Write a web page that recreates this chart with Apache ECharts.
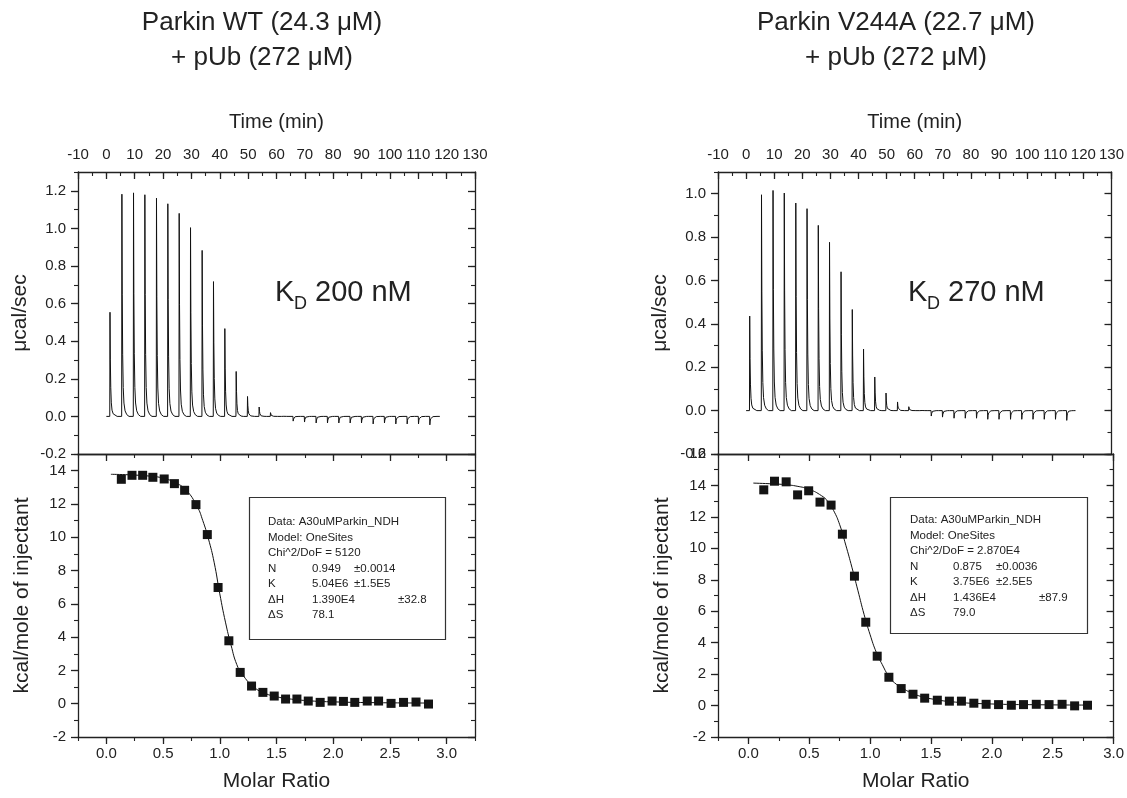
<!DOCTYPE html>
<html><head><meta charset="utf-8">
<script src="https://cdn.jsdelivr.net/npm/echarts@6/dist/echarts.min.js"></script>
<style>html,body{margin:0;padding:0;background:#fff}#c{width:1127px;height:798px}</style>
</head><body><div id="c"></div>
<script>
// ---------- DATA ----------
const injTimes = [1.2, 5.4, 9.5, 13.5, 17.6, 21.6, 25.6, 29.6, 33.7, 37.7, 41.7, 45.7, 49.7, 53.8, 57.8, 61.8, 65.8, 69.8, 73.9, 77.9, 81.9, 85.9, 89.9, 94.0, 98.0, 102.0, 106.0, 110.0, 114.0];
const wtPeaks = [0.554, 1.182, 1.189, 1.179, 1.161, 1.131, 1.080, 1.004, 0.883, 0.717, 0.467, 0.239, 0.106, 0.05, 0.02, 0.009, -0.025, -0.03, -0.035, -0.035, -0.035, -0.035, -0.035, -0.04, -0.035, -0.04, -0.04, -0.04, -0.045];
const vaPeaks = [0.436, 0.995, 1.015, 1.003, 0.957, 0.931, 0.854, 0.776, 0.640, 0.466, 0.284, 0.155, 0.081, 0.040, 0.018, 0.008, -0.025, -0.03, -0.035, -0.035, -0.035, -0.04, -0.04, -0.04, -0.04, -0.04, -0.04, -0.04, -0.045];
const peakDt = [0, 0.08, 0.2, 0.35, 0.55, 0.8, 1.2, 1.8, 2.6];
const peakShape = [0, 1, 0.55, 0.28, 0.13, 0.06, 0.025, 0.008, 0];
const traceEndWT = 117.6, traceEndVA = 117.2;

const wtRatio = [0.132, 0.226, 0.32, 0.41, 0.51, 0.60, 0.69, 0.79, 0.89, 0.985, 1.08, 1.18, 1.28, 1.38, 1.48, 1.58, 1.68, 1.78, 1.885, 1.99, 2.09, 2.19, 2.30, 2.40, 2.51, 2.62, 2.73, 2.84];
const wtHeat = [13.48, 13.72, 13.72, 13.6, 13.5, 13.22, 12.82, 11.96, 10.16, 6.98, 3.78, 1.88, 1.06, 0.68, 0.46, 0.28, 0.28, 0.16, 0.08, 0.16, 0.14, 0.08, 0.16, 0.16, 0.02, 0.08, 0.1, -0.02];
const vaRatio = [0.126, 0.214, 0.31, 0.404, 0.495, 0.588, 0.679, 0.772, 0.871, 0.964, 1.058, 1.154, 1.255, 1.352, 1.448, 1.552, 1.651, 1.75, 1.852, 1.953, 2.055, 2.16, 2.26, 2.365, 2.47, 2.577, 2.68, 2.786];
const vaHeat = [13.72, 14.27, 14.23, 13.4, 13.66, 12.94, 12.75, 10.9, 8.23, 5.3, 3.14, 1.8, 1.08, 0.72, 0.47, 0.34, 0.28, 0.28, 0.15, 0.08, 0.06, 0.02, 0.06, 0.08, 0.06, 0.08, -0.02, 0.02];

const wtFitX = [0.04, 0.2, 0.4, 0.5, 0.6, 0.7, 0.8, 0.85, 0.9, 0.95, 1.0, 1.05, 1.1, 1.15, 1.2, 1.3, 1.4, 1.5, 1.6, 1.8, 2.0, 2.4, 2.85];
const wtFitY = [13.78, 13.75, 13.66, 13.55, 13.3, 12.85, 11.85, 11.0, 9.9, 8.5, 6.6, 4.9, 3.5, 2.35, 1.75, 1.0, 0.62, 0.42, 0.3, 0.17, 0.11, 0.06, 0.04];
const vaFitX = [0.04, 0.2, 0.3, 0.4, 0.5, 0.6, 0.65, 0.7, 0.75, 0.8, 0.85, 0.9, 0.95, 1.0, 1.05, 1.1, 1.15, 1.2, 1.3, 1.4, 1.5, 1.7, 2.0, 2.4, 2.79];
const vaFitY = [14.15, 14.1, 14.05, 13.95, 13.75, 13.35, 13.0, 12.4, 11.5, 10.2, 8.8, 7.3, 5.8, 4.5, 3.4, 2.6, 1.9, 1.45, 0.95, 0.62, 0.43, 0.22, 0.1, 0.05, 0.03];

const timeTicks = [-10, 0, 10, 20, 30, 40, 50, 60, 70, 80, 90, 100, 110, 120, 130];
const powerTicksWT = [-0.2, 0, 0.2, 0.4, 0.6, 0.8, 1.0, 1.2];
const powerTicksVA = [-0.2, 0, 0.2, 0.4, 0.6, 0.8, 1.0];
const heatTicksWT = [-2, 0, 2, 4, 6, 8, 10, 12, 14];
const heatTicksVA = [-2, 0, 2, 4, 6, 8, 10, 12, 14, 16];
const ratioTicks = [0, 0.5, 1.0, 1.5, 2.0, 2.5, 3.0];

const titlesWT = ['Parkin WT (24.3 μM)', '+ pUb (272 μM)'];
const titlesVA = ['Parkin V244A (22.7 μM)', '+ pUb (272 μM)'];
const kdWT = '200 nM', kdVA = '270 nM';
const infoWT = [['Data: A30uMParkin_NDH'], ['Model: OneSites'], ['Chi^2/DoF = 5120'], ['N', '0.949', '±0.0014'], ['K', '5.04E6', '±1.5E5'], ['ΔH', '1.390E4', '', '±32.8'], ['ΔS', '78.1']];
const infoVA = [['Data: A30uMParkin_NDH'], ['Model: OneSites'], ['Chi^2/DoF = 2.870E4'], ['N', '0.875', '±0.0036'], ['K', '3.75E6', '±2.5E5'], ['ΔH', '1.436E4', '', '±87.9'], ['ΔS', '79.0']];

// ---------- BUILD ----------
const FONT = '"Liberation Sans", Arial, sans-serif';
const AX = '#222';
const TXT = '#222';

function trace(peaks, end) {
  const pts = [[0, 0]];
  injTimes.forEach((t, i) => {
    peakDt.forEach((d, k) => pts.push([t + d, peaks[i] * peakShape[k]]));
  });
  pts.push([end, 0]);
  return pts;
}
function zip(a, b) { return a.map((v, i) => [v, b[i]]); }

const xAxes = [], yAxes = [];
function add(list, cfg) { list.push(cfg); return list.length - 1; }
function majorAxis(grid, pos, min, max, ticks, inside, showLabel, fmt, extra) {
  const lbl = { show: showLabel, customValues: ticks, color: TXT, fontSize: 15, fontFamily: FONT, margin: 10 };
  if (fmt) lbl.formatter = fmt;
  return Object.assign({
    type: 'value', gridIndex: grid, position: pos, min: min, max: max,
    axisLine: { show: true, onZero: false, lineStyle: { color: AX, width: 1.3 } },
    axisTick: { show: ticks !== null, inside: inside, length: 7, customValues: ticks || [], lineStyle: { color: AX, width: 1.3 } },
    axisLabel: lbl,
    splitLine: { show: false }, minorTick: { show: false }
  }, extra || {});
}
function minorAxis(grid, pos, min, max, step, inside, len) {
  return {
    type: 'value', gridIndex: grid, position: pos, min: min, max: max, interval: step,
    axisLine: { show: false, onZero: false },
    axisTick: { show: true, inside: inside, length: len, lineStyle: { color: AX, width: 1.1 } },
    axisLabel: { show: false }, splitLine: { show: false }
  };
}
const nameStyle = { fontSize: 21, color: TXT, fontFamily: FONT };

const panels = [
  { gt: 0, gb: 1, left: 78, peaks: wtPeaks, end: traceEndWT, pMax: 1.3, pTicks: powerTicksWT, hMax: 15, hTicks: heatTicksWT, rMax: 3.25, ratio: wtRatio, heat: wtHeat, fx: wtFitX, fy: wtFitY },
  { gt: 2, gb: 3, left: 718, peaks: vaPeaks, end: traceEndVA, pMax: 1.1, pTicks: powerTicksVA, hMax: 16, hTicks: heatTicksVA, rMax: 3.0, ratio: vaRatio, heat: vaHeat, fx: vaFitX, fy: vaFitY }
];
const grids = [];
const series = [];
const f1 = v => Number(v).toFixed(1);
panels.forEach(p => {
  grids[p.gt] = { left: p.left, top: 172, width: 397, height: 282 };
  grids[p.gb] = { left: p.left, top: 454, width: 397, height: 283 };
  // top plot
  const xt = add(xAxes, majorAxis(p.gt, 'top', -10, 130, timeTicks, true, true, null,
    { name: 'Time (min)', nameLocation: 'middle', nameGap: 40, nameTextStyle: { fontSize: 20, color: TXT, fontFamily: FONT } }));
  add(xAxes, minorAxis(p.gt, 'top', -10, 130, 5, true, 4));
  add(xAxes, majorAxis(p.gt, 'bottom', -10, 130, null, true, false));
  const yl = add(yAxes, majorAxis(p.gt, 'left', -0.2, p.pMax, p.pTicks, false, true, f1,
    { name: 'μcal/sec', nameLocation: 'middle', nameGap: 47, nameTextStyle: nameStyle }));
  yAxes[yl].axisLabel.margin = 12;
  add(yAxes, minorAxis(p.gt, 'left', -0.2, p.pMax, 0.1, false, 4));
  add(yAxes, majorAxis(p.gt, 'right', -0.2, p.pMax, p.pTicks, true, false));
  add(yAxes, minorAxis(p.gt, 'right', -0.2, p.pMax, 0.1, true, 4));
  series.push({ type: 'line', xAxisIndex: xt, yAxisIndex: yl, data: trace(p.peaks, p.end), showSymbol: false, symbol: 'none',
    lineStyle: { color: '#111', width: 1 }, silent: true });
  // bottom plot
  const xb = add(xAxes, majorAxis(p.gb, 'bottom', -0.25, p.rMax, ratioTicks, false, true, f1,
    { name: 'Molar Ratio', nameLocation: 'middle', nameGap: 34, nameTextStyle: nameStyle }));
  xAxes[xb].axisLabel.margin = 9;
  add(xAxes, minorAxis(p.gb, 'bottom', -0.25, p.rMax, 0.25, false, 4));
  add(xAxes, majorAxis(p.gb, 'top', -0.25, p.rMax, ratioTicks, true, false));
  add(xAxes, minorAxis(p.gb, 'top', -0.25, p.rMax, 0.25, true, 4));
  const yb = add(yAxes, majorAxis(p.gb, 'left', -2, p.hMax, p.hTicks, false, true, null,
    { name: 'kcal/mole of injectant', nameLocation: 'middle', nameGap: 45, nameTextStyle: nameStyle }));
  yAxes[yb].axisLabel.margin = 12;
  add(yAxes, minorAxis(p.gb, 'left', -2, p.hMax, 1, false, 4));
  add(yAxes, majorAxis(p.gb, 'right', -2, p.hMax, p.hTicks, true, false));
  add(yAxes, minorAxis(p.gb, 'right', -2, p.hMax, 1, true, 4));
  series.push({ type: 'line', xAxisIndex: xb, yAxisIndex: yb, data: zip(p.fx, p.fy), smooth: true, showSymbol: false, symbol: 'none',
    lineStyle: { color: '#111', width: 1 }, silent: true, z: 2 });
  series.push({ type: 'scatter', xAxisIndex: xb, yAxisIndex: yb, data: zip(p.ratio, p.heat), symbol: 'rect', symbolSize: 9,
    itemStyle: { color: '#141414', opacity: 1 }, silent: true, z: 3 });
});

// annotations
const graphic = [];
function txt(text, x, y, size, align, vAlign) {
  graphic.push({ type: 'text', x: x, y: y, silent: true,
    style: { text: text, font: size + 'px ' + FONT, fill: TXT, textAlign: align || 'left', textVerticalAlign: vAlign || 'middle' } });
}
[[titlesWT, 262], [titlesVA, 896]].forEach(([t, cx]) => {
  txt(t[0], cx, 23, 26, 'center');
  txt(t[1], cx, 58, 26, 'center');
});
[[kdWT, 275], [kdVA, 908]].forEach(([k, x]) => {
  txt('K', x, 293, 29);
  txt('D', x + 19, 304, 18);
  txt(k, x + 40, 293, 29);
});
function infoBox(lines, bx, by, bw, bh, tx, ty, cols) {
  graphic.push({ type: 'rect', shape: { x: bx, y: by, width: bw, height: bh }, silent: true,
    style: { fill: '#fff', stroke: '#333', lineWidth: 1.2 }, z: 10 });
  lines.forEach((ln, i) => {
    ln.forEach((s, j) => {
      if (!s) return;
      graphic.push({ type: 'text', x: tx + cols[j], y: ty + i * 15.5, silent: true, z: 11,
        style: { text: s, font: '11.5px ' + FONT, fill: TXT, textVerticalAlign: 'middle' } });
    });
  });
}
infoBox(infoWT, 249.5, 497.5, 196, 142, 268, 522, [0, 44, 86, 130]);
infoBox(infoVA, 890.5, 497.5, 197, 136, 910, 520, [0, 43, 86, 129]);

const chart = echarts.init(document.getElementById('c'), null, { renderer: 'canvas' });
chart.setOption({
  animation: false,
  backgroundColor: '#fff',
  textStyle: { fontFamily: FONT },
  grid: grids,
  xAxis: xAxes,
  yAxis: yAxes,
  series: series,
  graphic: graphic
});
</script>
</body></html>
